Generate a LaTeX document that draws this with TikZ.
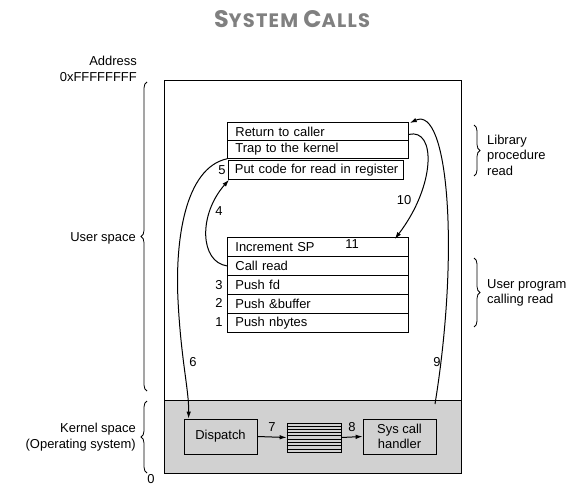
\documentclass[tikz,border=0pt]{standalone}
\usepackage{fontspec}
\setmainfont{Liberation Sans}
\newfontfamily\titlefont{Poppins}[LetterSpace=6]
\usetikzlibrary{arrows.meta,decorations.pathreplacing,calc}

\definecolor{kernelgray}{RGB}{209,209,209}
\definecolor{titlegray}{RGB}{128,128,128}

\tikzset{
  lbl/.style={font=\fontsize{13}{15.5}\selectfont, inner sep=0pt},
  stackrow/.style={draw, line width=0.8bp, anchor=north west,
    minimum height=#1, inner xsep=8bp, inner ysep=0pt,
    text width=165bp, align=left, font=\fontsize{13}{15.5}\selectfont},
  stackrow/.default=18bp,
  kbox/.style={draw, line width=0.8bp, fill=kernelgray, align=center,
    minimum width=73bp, minimum height=35bp, inner sep=0pt,
    font=\fontsize{13}{15.5}\selectfont},
  arr/.style={-{Latex[length=7bp,width=4.5bp]}, line width=1bp},
  brace/.style={decorate, decoration={brace, amplitude=6bp}, line width=0.8bp},
}

\begin{document}
\begin{tikzpicture}[x=1bp,y=-1bp]
\useasboundingbox (0,0) rectangle (575,487);

% title
\node[text=titlegray, font=\titlefont\bfseries, inner sep=0pt] (title) at (292,19)
  {{\fontsize{24}{25}\selectfont S}{\fontsize{19.5}{21}\selectfont YSTEM }{\fontsize{24}{25}\selectfont C}{\fontsize{19.5}{21}\selectfont ALLS}};

% address space: user part and shaded kernel part
\fill[kernelgray] (164,400) rectangle (461,473);
\draw[line width=0.8bp] (164,400) -- (461,400);
\draw[line width=0.8bp] (164,80) rectangle (461,473);

% library procedure read
\node[stackrow] (ret)  at (227,122) {Return to caller};
\node[stackrow] (trap) at (227,140) {Trap to the kernel};
\node[stackrow=19bp, text width=168bp, inner xsep=3.5bp] (put) at (228,160) {\hspace{3bp}Put code for read in register};

% user program calling read
\node[stackrow=19bp] (inc)  at (227,237) {Increment SP};
\node[stackrow=19bp] (call) at (227,256) {Call read};
\node[stackrow=19bp] (fd)   at (227,275) {Push fd};
\node[stackrow=19bp] (buf)  at (227,294) {Push \&buffer};
\node[stackrow=19bp] (nb)   at (227,313) {Push nbytes};

% kernel
\node[kbox] (disp) at (220.5,436.5) {Dispatch};
\node[draw, line width=0.8bp, fill=kernelgray, minimum width=54bp, minimum height=29bp, inner sep=0pt] (tbl) at (314,437.5) {};
\foreach \k in {1,...,8}
  \draw[line width=0.8bp] ($(tbl.north west)!\k/9!(tbl.south west)$) -- ($(tbl.north east)!\k/9!(tbl.south east)$);
\node[kbox] (sch) at (399.5,436.5) {Sys call\\handler};

% step connectors
\coordinate (k9) at (435,404);
\draw[arr] (trap.south west) .. controls (185,168) and (175,240) .. (178,300)
  .. controls (181,360) and (189,390) .. ($(disp.north west)+(5,0)$);
\draw[arr] (call.west) .. controls (200,262) and (198,215) .. ($(put.south west)+(1,0)$);
\draw[arr] (disp.east) -- (tbl.west);
\draw[arr] (tbl.east) -- (sch.west);
\draw[arr] (k9) .. controls (460,250) and (448,105) .. ($(ret.north east)+(1,1)$);
\draw[arr] ($(ret.east)+(0,3)$) .. controls (436,128) and (436,185) .. ($(inc.north east)+(-14,2)$);

% step numbers
\node[lbl] (n1)  at (219,322) {1};
\node[lbl] (n2)  at (219,303) {2};
\node[lbl] (n3)  at (219,285) {3};
\node[lbl] (n4)  at (219,211) {4};
\node[lbl] (n5)  at (222,170) {5};
\node[lbl] (n6)  at (193,362) {6};
\node[lbl] (n7)  at (272,427) {7};
\node[lbl] (n8)  at (352,427) {8};
\node[lbl] (n9)  at (437,362) {9};
\node[lbl] (n10) at (404,200) {10};
\node[lbl] (n11) at (352,244) {11};

% braces and their labels
\draw[brace] (147,391) -- (147,82);
\draw[brace] (147,473) -- (147,401);
\draw[brace] (474,125) -- (474,176);
\draw[brace] (474,258) -- (474,327);

\node[lbl, anchor=east, align=right] (addr) at (137,69) {Address\\0xFFFFFFFF};
\node[lbl, anchor=east] (us) at (136,238) {User space};
\node[lbl, anchor=east, align=right] (ks) at (136,437) {Kernel space\\(Operating system)};
\node[lbl] (zero) at (151,479.5) {0};
\node[lbl, anchor=west, align=left] (lib) at (487,155) {Library\\procedure\\read};
\node[lbl, anchor=west, align=left] (upc) at (487,293) {User program\\calling read};
\end{tikzpicture}
\end{document}
